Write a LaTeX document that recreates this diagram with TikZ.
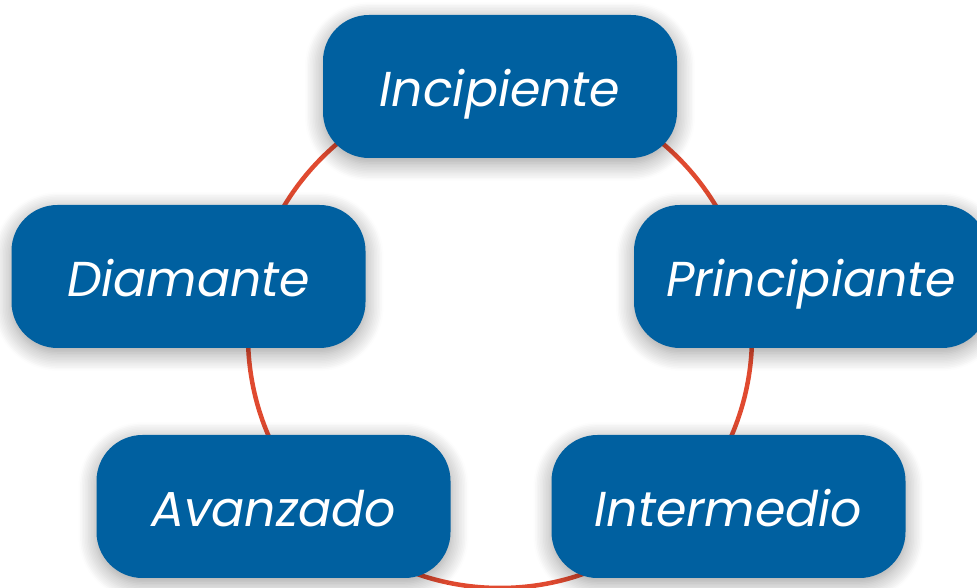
\documentclass[tikz,border=0pt]{standalone}
\usepackage{fontspec}
\setmainfont{Poppins}
\usetikzlibrary{shadows.blur}
\definecolor{boxblue}{HTML}{0060A0}
\definecolor{ringred}{HTML}{E04A30}
\tikzset{
  level/.style={draw=none, fill=boxblue, rounded corners=46pt,
    minimum width=354pt, minimum height=143pt, inner sep=0pt,
    text height=41pt, text depth=0pt,
    text=white, font=\fontsize{49}{55}\selectfont\itshape,
    blur shadow={shadow xshift=0pt, shadow yshift=-5pt, shadow blur radius=18pt, shadow blur steps=12, shadow opacity=40}},
  ring/.style={draw=ringred, line width=4.5pt}
}
\begin{document}
\begin{tikzpicture}[x=1pt,y=1pt]
\useasboundingbox (0,0) rectangle (977,588);
\clip (0,0) rectangle (977,588);
\coordinate (c) at (500,252);
\draw[ring] (c) circle[radius=252pt];
\node[level] (inc) at (500,501.5) {Incipiente};
\node[level] (dia) at (188.5,311.5) {Diamante};
\node[level] (pri) at (811,311.5) {Principiante};
\node[level] (ava) at (273.5,81.5) {Avanzado};
\node[level] (int) at (728.5,81.5) {Intermedio};
\end{tikzpicture}
\end{document}
